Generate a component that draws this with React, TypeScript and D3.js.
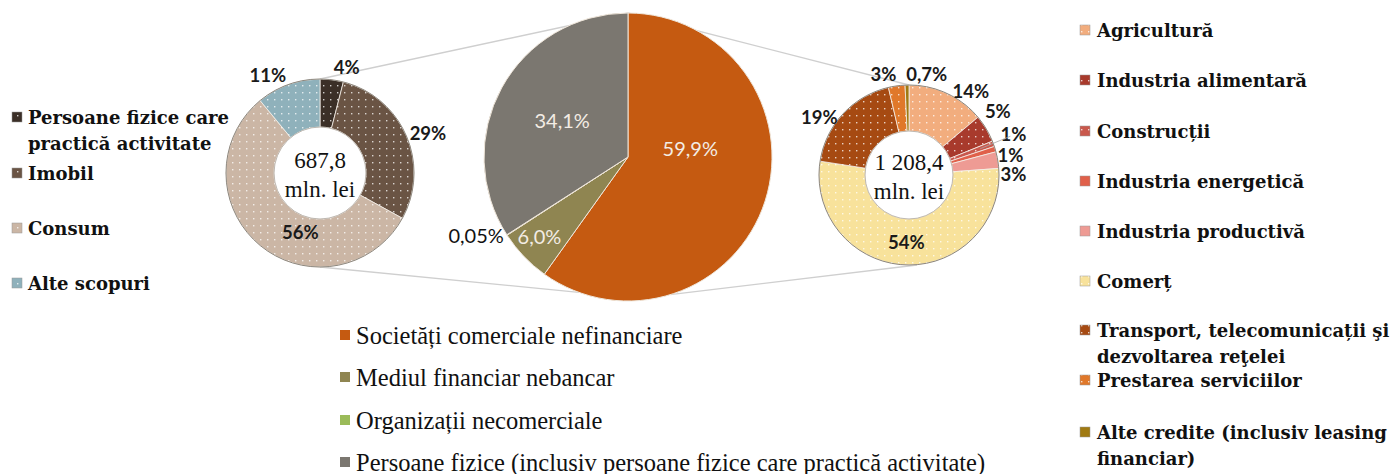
import React from 'react';
import * as d3 from 'd3';

const W = 1399;
const H = 474;

// middle pie: credit by debtor type (%)
const sectorNames = [
  'Societăți comerciale nefinanciare',
  'Mediul financiar nebancar',
  'Organizații necomerciale',
  'Persoane fizice (inclusiv persoane fizice care practică activitate)',
];
const sectorValues = [59.9, 6.0, 0.05, 34.1];
const sectorColors = ['#c55a11', '#8f8551', '#9bbb59', '#7b7770'];

// left donut: persons (%)
const personNames = ['Persoane fizice care practică activitate', 'Imobil', 'Consum', 'Alte scopuri'];
const personLegend = [['Persoane fizice care', 'practică activitate'], ['Imobil'], ['Consum'], ['Alte scopuri']];
const personValues = [4, 29, 56, 11];
const personTotal = ['687,8', 'mln. lei'];
const personColors = ['#3b2f27', '#6a5444', '#cbb6a5', '#8fb1bb'];

// right donut: companies by branch (%)
const firmNames = [
  'Agricultură', 'Industria alimentară', 'Construcții', 'Industria energetică', 'Industria productivă',
  'Comerț', 'Transport, telecomunicații şi dezvoltarea reţelei', 'Prestarea serviciilor',
  'Alte credite (inclusiv leasing financiar)',
];
const firmLegend = [
  ['Agricultură'], ['Industria alimentară'], ['Construcții'], ['Industria energetică'], ['Industria productivă'],
  ['Comerț'], ['Transport, telecomunicații şi', 'dezvoltarea reţelei'], ['Prestarea serviciilor'],
  ['Alte credite (inclusiv leasing', 'financiar)'],
];
const firmValues = [14, 5, 1, 1, 3, 54, 19, 3, 0.7];
const firmTotal = ['1 208,4', 'mln. lei'];
const firmColors = ['#f2ad7e', '#a83a2c', '#c9584c', '#e0604a', '#ee9b94', '#f8e29b', '#a64a12', '#e0782a', '#a07a12'];
const firmDotted = [true, true, true, false, false, true, true, true, false];

const SERIF = '"Liberation Serif", "DejaVu Serif", serif';
const WIDE_SERIF = '"DejaVu Serif", "Liberation Serif", serif';
const SANS = 'Lato, "Open Sans", sans-serif';

const comma = (s: string) => s.replace('.', ',');
const fmtSector = (v: number) => comma(v < 0.1 ? v.toFixed(2) : v.toFixed(1)) + '%';
const fmtShare = (v: number) => comma(v < 1 ? v.toFixed(1) : v.toFixed(0)) + '%';

const pie = d3.pie<number>().sort(null).value(d => d);

const polar = (cx: number, cy: number, r: number, a: number): [number, number] =>
  [cx + r * Math.sin(a), cy - r * Math.cos(a)];

interface DonutProps {
  id: string;
  cx: number; cy: number; outer: number; inner: number;
  values: number[]; colors: string[]; dotted: boolean[];
  total: string[];
  insideIdx: number[];
  nudges: [number, number][];
}

const Donut: React.FC<DonutProps> = ({ id, cx, cy, outer, inner, values, colors, dotted, total, insideIdx, nudges }) => {
  const arcs = pie(values);
  const arc = d3.arc<d3.PieArcDatum<number>>().innerRadius(inner).outerRadius(outer);
  return (
    <g>
      {arcs.map((a, i) => (
        <path key={i} transform={`translate(${cx},${cy})`} d={arc(a) || ''}
          fill={dotted[i] ? `url(#${id}-p${i})` : colors[i]} stroke="#f4efe8" strokeWidth={0.8} />
      ))}
      <circle cx={cx} cy={cy} r={outer} fill="none" stroke="#8d877e" strokeWidth={1} />
      <circle cx={cx} cy={cy} r={inner} fill="none" stroke="#b0aaa2" strokeWidth={0.8} />
      {arcs.map((a, i) => {
        const mid = (a.startAngle + a.endAngle) / 2;
        const inside = insideIdx.includes(i);
        const [x, y] = polar(cx, cy, inside ? (inner + outer) / 2 : outer + 16, mid);
        return (
          <text key={i} x={x + nudges[i][0]} y={y + nudges[i][1]} textAnchor="middle" dominantBaseline="central"
            fontFamily={SANS} fontWeight="bold" fontSize={18.5} fill="#1a1a1a">{fmtShare(a.data)}</text>
        );
      })}
      <text x={cx} y={cy - 13} textAnchor="middle" dominantBaseline="central" fontFamily={SERIF} fontSize={23} fill="#111">{total[0]}</text>
      <text x={cx} y={cy + 16} textAnchor="middle" dominantBaseline="central" fontFamily={SERIF} fontSize={23} fill="#111">{total[1]}</text>
    </g>
  );
};

const DotPattern: React.FC<{ id: string; color: string; dot?: string }> = ({ id, color, dot = '#ffffff' }) => (
  <pattern id={id} width={7} height={7} patternUnits="userSpaceOnUse">
    <rect width={7} height={7} fill={color} />
    <rect x={3} y={3} width={1.4} height={1.4} fill={dot} opacity={0.75} />
  </pattern>
);

export default function App() {
  // geometry
  const pc = { x: 628, y: 157, r: 144 };
  const left = { x: 320, y: 173, outer: 94, inner: 46 };
  const right = { x: 909, y: 175, outer: 90, inner: 44 };

  const sectorArcs = pie(sectorValues);
  const sectorArc = d3.arc<d3.PieArcDatum<number>>().innerRadius(0).outerRadius(pc.r);
  const sectorNudges: [number, number][] = [[-20, -35], [-26, 19], [0, 0], [10, 4]];

  // connector lines from the pie edge to the donuts
  const rad = (deg: number) => (deg * Math.PI) / 180;
  const pTop = polar(pc.x, pc.y, pc.r, 0);
  const pBL = polar(pc.x, pc.y, pc.r, rad(200));
  const pBR = polar(pc.x, pc.y, pc.r, rad(163));
  const connectors: [[number, number], [number, number]][] = [
    [pTop, [left.x, left.y - left.outer]],
    [pBL, [left.x, left.y + left.outer]],
    [pTop, [right.x, right.y - right.outer]],
    [pBR, [right.x + 8, right.y + right.outer]],
  ];

  const personNudges: [number, number][] = [[13, 3], [7, 4], [25, 5], [-15, 5]];
  const firmNudges: [number, number][] = [[17, 12], [-2, -9], [5, -4], [0, 10], [0, 17], [0, 0], [-12, 14], [-11, 4], [20, 5]];

  // leader for the small "Construcții" label
  const firmArcs = pie(firmValues);
  const cMid = (firmArcs[2].startAngle + firmArcs[2].endAngle) / 2;
  const leadFrom = polar(right.x, right.y, right.outer - 14, cMid);
  const leadTo = polar(right.x, right.y, right.outer + 16, cMid);

  const personRows = [117, 173, 228, 283];
  const firmRows = [30, 80, 131, 181, 231, 281, 330, 380, 432];
  const sectorRows = [335, 377, 420, 462];

  return (
    <svg width={W} height={H} style={{ position: 'absolute', left: 0, top: 0, background: '#fff' }}>
      <defs>
        {personColors.map((c, i) => <DotPattern key={i} id={`pers-p${i}`} color={c} />)}
        {firmColors.map((c, i) => <DotPattern key={i} id={`firm-p${i}`} color={c} />)}
      </defs>

      {connectors.map(([a, b], i) => (
        <line key={i} x1={a[0]} y1={a[1]} x2={b[0]} y2={b[1]} stroke="#cfcfcf" strokeWidth={1.3} />
      ))}

      {/* middle pie */}
      <g transform={`translate(${pc.x},${pc.y})`}>
        {sectorArcs.map((a, i) => (
          <path key={i} d={sectorArc(a) || ''} fill={sectorColors[i]} stroke="#efe6da" strokeWidth={1} />
        ))}
      </g>
      {sectorArcs.map((a, i) => {
        const mid = (a.startAngle + a.endAngle) / 2;
        if (a.data < 1) {
          const [x, y] = polar(pc.x, pc.y, pc.r, a.endAngle);
          return (
            <text key={i} x={x - 3} y={y} textAnchor="end" dominantBaseline="central" fontFamily={SANS} fontSize={20} fill="#111">
              {fmtSector(a.data)}
            </text>
          );
        }
        const [x, y] = polar(pc.x, pc.y, pc.r * 0.6, mid);
        return (
          <text key={i} x={x + sectorNudges[i][0]} y={y + sectorNudges[i][1]} textAnchor="middle" dominantBaseline="central"
            fontFamily={SANS} fontSize={20} fill="#f3ece4">{fmtSector(a.data)}</text>
        );
      })}

      <Donut id="pers" cx={left.x} cy={left.y} outer={left.outer} inner={left.inner} values={personValues}
        colors={personColors} dotted={personColors.map(() => true)} total={personTotal} insideIdx={[2]} nudges={personNudges} />
      <Donut id="firm" cx={right.x} cy={right.y} outer={right.outer} inner={right.inner} values={firmValues}
        colors={firmColors} dotted={firmDotted} total={firmTotal} insideIdx={[5]} nudges={firmNudges} />
      <line x1={leadFrom[0]} y1={leadFrom[1]} x2={leadTo[0] + 2} y2={leadTo[1] - 2} stroke="#a8a8a8" strokeWidth={0.8} />

      {/* left legend */}
      {personNames.map((n, i) => (
        <g key={n}>
          <rect x={12} y={personRows[i] - 5} width={10} height={10} fill={`url(#pers-p${i})`} stroke="#999" strokeWidth={0.5} />
          {personLegend[i].map((t, j) => (
            <text key={j} x={28} y={personRows[i] + j * 26} dominantBaseline="central" fontFamily={WIDE_SERIF} fontWeight="bold" fontSize={18} fill="#111">{t}</text>
          ))}
        </g>
      ))}

      {/* right legend */}
      {firmNames.map((n, i) => (
        <g key={n}>
          <rect x={1080} y={firmRows[i] - 5} width={10} height={10} fill={firmDotted[i] ? `url(#firm-p${i})` : firmColors[i]} stroke="#999" strokeWidth={0.5} />
          {firmLegend[i].map((t, j) => (
            <text key={j} x={1097} y={firmRows[i] + j * 26} dominantBaseline="central" fontFamily={WIDE_SERIF} fontWeight="bold" fontSize={18} fill="#111">{t}</text>
          ))}
        </g>
      ))}

      {/* bottom legend */}
      {sectorNames.map((n, i) => (
        <g key={n}>
          <rect x={340} y={sectorRows[i] - 5} width={10} height={10} fill={sectorColors[i]} />
          <text x={356} y={sectorRows[i]} dominantBaseline="central" fontFamily={SERIF} fontSize={24.5} fill="#111">{n}</text>
        </g>
      ))}
    </svg>
  );
}
